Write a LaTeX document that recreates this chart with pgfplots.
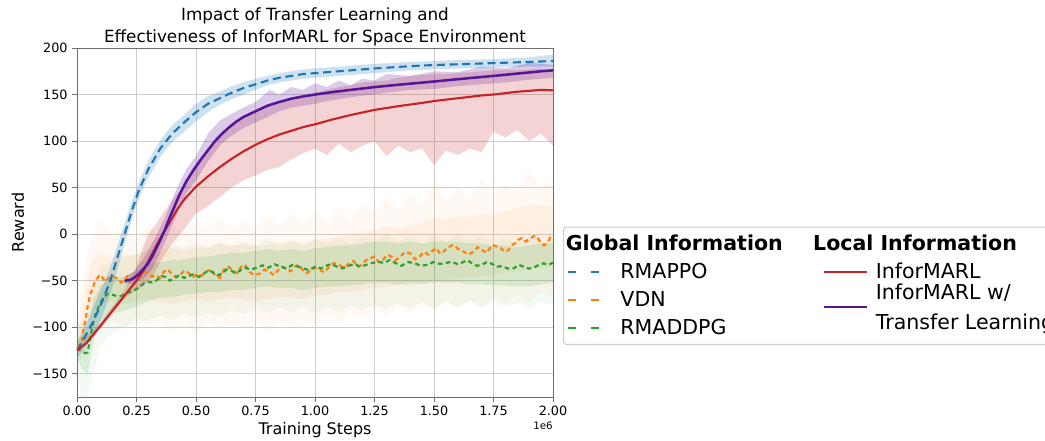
\documentclass[border=0pt]{standalone}
\usepackage{pgfplots}
\pgfplotsset{compat=1.18}
\usepackage{pgfplotstable}
\usepgfplotslibrary{fillbetween}
\usepackage{fontspec}
\setmainfont{DejaVu Sans}

\definecolor{cblue}{RGB}{31,119,180}
\definecolor{corange}{RGB}{255,127,14}
\definecolor{cgreen}{RGB}{44,160,44}
\definecolor{cred}{RGB}{200,35,40}
\definecolor{cpurple}{RGB}{88,20,150}
\definecolor{gridgray}{RGB}{205,205,205}
\definecolor{spinegray}{RGB}{110,110,110}
\definecolor{legframe}{RGB}{204,204,204}

\pgfplotsset{
  legline/.style={legend image code/.code={\draw[##1] (0pt,0pt) -- (32pt,0pt); \path[draw=none,fill=none] (32pt,0pt) -- (37pt,0pt);}},
  leglow/.style={legend image code/.code={\draw[##1] (0pt,-5pt) -- (32pt,-5pt); \path[draw=none,fill=none] (32pt,0pt) -- (37pt,0pt);}},
}

% bands: t lo hi
\pgfplotstableread{
t lo hi
0.00 -133 -117
0.03 -124 -100
0.06 -112 -84
0.10 -92 -60
0.14 -64 -36
0.17 -38 -12
0.20 -11 11
0.23 15 35
0.26 38 56
0.30 61 79
0.35 83 101
0.40 99 117
0.45 110 128
0.50 121 140
0.55 131 148
0.60 139 153
0.65 145 159
0.70 150 163
0.75 155 167
0.80 160 170
0.85 163 173
0.90 165 175
0.95 167 177
1.00 168 178
1.10 170 180
1.25 173 183
1.40 176 185
1.50 177 186
1.60 178 187
1.75 179 188
1.90 180 190
2.00 180 193
}\bandBlue

\pgfplotstableread{
t lo hi
0.00 -128 -122
0.10 -101 -95
0.20 -69 -60
0.25 -60 -35
0.28 -55 -12
0.30 -50 0
0.33 -40 10
0.36 -25 22
0.40 -10 36
0.45 5 52
0.50 22 75
0.55 30 92
0.60 40 108
0.65 50 118
0.70 58 126
0.75 63 132
0.80 69 137
0.85 72 142
0.90 80 145
0.95 87 148
1.00 92 152
1.05 85 155
1.10 97 158
1.15 88 160
1.20 95 163
1.25 100 164
1.30 84 165
1.35 95 168
1.40 88 170
1.45 92 171
1.50 74 172
1.55 90 172
1.60 85 173
1.65 92 174
1.70 88 175
1.75 110 176
1.80 104 177
1.85 112 176
1.90 100 177
1.95 108 178
2.00 95 175
}\bandRed

\pgfplotstableread{
t lo hi
0.20 -54 -46
0.24 -53 -40
0.28 -48 -26
0.32 -36 -8
0.345 -22 5
0.37 -8 18
0.41 16 44
0.46 44 70
0.50 58 84
0.55 78 108
0.60 95 122
0.64 104 128
0.70 114 136
0.75 120 142
0.81 127 155
0.85 132 150
0.90 136 158
0.95 138 155
1.00 140 162
1.05 143 158
1.10 145 165
1.15 147 160
1.20 149 167
1.25 150 165
1.30 152 172
1.40 155 170
1.50 156 175
1.60 159 174
1.70 161 180
1.80 163 178
1.90 166 184
2.00 168 182
}\bandPurple

% orange: outer (lo1 hi1), inner (lo2 hi2)
\pgfplotstableread{
t lo1 hi1 lo2 hi2
0.00 -140 -105 -130 -112
0.03 -125 -40 -112 -70
0.06 -108 -5 -85 -30
0.10 -100 15 -75 -20
0.15 -92 0 -72 -25
0.20 -100 8 -75 -22
0.25 -88 -5 -72 -22
0.30 -100 10 -70 -18
0.35 -92 -2 -72 -20
0.40 -105 12 -75 -15
0.45 -95 0 -72 -18
0.50 -108 15 -70 -15
0.55 -92 5 -72 -14
0.60 -102 18 -70 -10
0.65 -95 5 -68 -12
0.70 -100 15 -70 -10
0.75 -90 5 -72 -14
0.80 -105 20 -70 -12
0.85 -92 8 -68 -10
0.90 -100 22 -68 -8
0.95 -90 10 -70 -10
1.00 -98 25 -66 -6
1.05 -88 12 -65 -5
1.10 -95 30 -62 -2
1.15 -85 15 -62 0
1.20 -92 35 -60 2
1.25 -80 20 -58 5
1.30 -88 40 -56 8
1.35 -78 25 -55 6
1.40 -85 45 -55 10
1.45 -75 30 -52 12
1.50 -82 55 -50 18
1.55 -72 35 -48 15
1.60 -80 50 -48 20
1.65 -70 38 -46 18
1.70 -78 60 -45 22
1.75 -68 40 -44 20
1.80 -75 55 -42 25
1.85 -65 45 -40 28
1.90 -72 70 -38 32
1.95 -62 48 -36 30
2.00 -68 60 -35 30
}\bandOrange

\pgfplotstableread{
t lo1 hi1 lo2 hi2
0.00 -150 -100 -132 -112
0.02 -175 -95 -145 -110
0.045 -175 -85 -150 -100
0.07 -150 -55 -115 -70
0.10 -120 -35 -95 -55
0.15 -105 -30 -85 -48
0.20 -100 -25 -82 -45
0.25 -95 -22 -78 -40
0.30 -92 -15 -72 -32
0.35 -88 -18 -68 -30
0.40 -92 -12 -68 -28
0.45 -85 -15 -65 -27
0.50 -90 -10 -64 -25
0.55 -84 -15 -62 -24
0.60 -88 -8 -62 -22
0.65 -82 -14 -60 -20
0.70 -86 -8 -60 -20
0.75 -80 -12 -58 -18
0.80 -85 -5 -56 -16
0.85 -78 -12 -58 -18
0.90 -84 -6 -58 -16
0.95 -78 -12 -60 -18
1.00 -85 -5 -58 -15
1.05 -78 -10 -56 -14
1.10 -84 -4 -56 -12
1.15 -76 -10 -55 -12
1.20 -82 -2 -54 -10
1.25 -75 -8 -52 -8
1.30 -80 0 -52 -8
1.35 -74 -8 -54 -10
1.40 -80 -2 -52 -8
1.45 -72 -10 -54 -10
1.50 -80 0 -52 -8
1.55 -72 -8 -52 -8
1.60 -78 0 -52 -8
1.65 -72 -8 -54 -10
1.70 -80 -2 -54 -10
1.75 -72 -10 -55 -12
1.80 -78 -4 -55 -12
1.85 -74 -10 -56 -14
1.90 -80 -2 -56 -12
1.95 -72 -8 -54 -10
2.00 -76 -4 -52 -10
}\bandGreen

\begin{document}
\begin{tikzpicture}
\begin{axis}[
  width=357pt, height=261.75pt, scale only axis,
  clip mode=individual,
  xmin=0, xmax=2, ymin=-175, ymax=200,
  xtick={0,0.25,0.5,0.75,1,1.25,1.5,1.75,2},
  xticklabels={0.00,0.25,0.50,0.75,1.00,1.25,1.50,1.75,2.00},
  ytick={-150,-100,-50,0,50,100,150,200},
  yticklabels={−150,−100,−50,0,50,100,150,200},
  tick label style={font=\fontsize{9.6}{11}\selectfont},
  xtick pos=bottom, ytick pos=left,
  tick align=outside, major tick length=3.5pt,
  tick style={spinegray, line width=0.6pt},
  axis line style={spinegray, line width=0.6pt},
  grid=major, grid style={gridgray, line width=0.6pt},
  xlabel={Training Steps}, ylabel={Reward},
  label style={font=\fontsize{12}{14}\selectfont},
  xlabel style={at={(axis description cs:0.5,-0.095)}, anchor=center},
  ylabel style={at={(axis description cs:-0.124,0.5)}, anchor=center},
  title={Impact of Transfer Learning and\\Effectiveness of InforMARL for Space Environment},
  title style={align=center, font=\fontsize{12.6}{16.5}\selectfont, yshift=-8pt},
  legend columns=2,
  legend cell align=left,
  legend style={at={(1,0)}, anchor=south west, xshift=7.5pt, yshift=39pt,
    font=\fontsize{15.4}{18}\selectfont,
    draw=legframe, line width=0.8pt, rounded corners=2pt,
    inner ysep=4pt, row sep=4pt,
    /tikz/every even column/.append style={column sep=28pt}},
]

% --- spread bands ---
\addplot[draw=none, name path=olo1, forget plot] table[x=t,y=lo1]{\bandOrange};
\addplot[draw=none, name path=ohi1, forget plot] table[x=t,y=hi1]{\bandOrange};
\addplot[fill=corange, fill opacity=0.05, draw=none, forget plot] fill between[of=olo1 and ohi1];
\addplot[draw=none, name path=olo2, forget plot] table[x=t,y=lo2]{\bandOrange};
\addplot[draw=none, name path=ohi2, forget plot] table[x=t,y=hi2]{\bandOrange};
\addplot[fill=corange, fill opacity=0.08, draw=none, forget plot] fill between[of=olo2 and ohi2];

\addplot[draw=none, name path=glo1, forget plot] table[x=t,y=lo1]{\bandGreen};
\addplot[draw=none, name path=ghi1, forget plot] table[x=t,y=hi1]{\bandGreen};
\addplot[fill=cgreen, fill opacity=0.06, draw=none, forget plot] fill between[of=glo1 and ghi1];
\addplot[draw=none, name path=glo2, forget plot] table[x=t,y=lo2]{\bandGreen};
\addplot[draw=none, name path=ghi2, forget plot] table[x=t,y=hi2]{\bandGreen};
\addplot[fill=cgreen, fill opacity=0.14, draw=none, forget plot] fill between[of=glo2 and ghi2];

\addplot[draw=none, name path=blo, forget plot] table[x=t,y=lo]{\bandBlue};
\addplot[draw=none, name path=bhi, forget plot] table[x=t,y=hi]{\bandBlue};
\addplot[fill=cblue, fill opacity=0.22, draw=none, forget plot] fill between[of=blo and bhi];

\addplot[draw=none, name path=rlo, forget plot] table[x=t,y=lo]{\bandRed};
\addplot[draw=none, name path=rhi, forget plot] table[x=t,y=hi]{\bandRed};
\addplot[fill=cred, fill opacity=0.2, draw=none, forget plot] fill between[of=rlo and rhi];

\addplot[draw=none, name path=plo, forget plot] table[x=t,y=lo]{\bandPurple};
\addplot[draw=none, name path=phi, forget plot] table[x=t,y=hi]{\bandPurple};
\addplot[fill=cpurple, fill opacity=0.22, draw=none, forget plot] fill between[of=plo and phi];

% --- mean curves ---
% VDN
\addplot[corange, line width=1.6pt, dash pattern=on 3.5pt off 2.5pt, forget plot] coordinates {
(0.000,-122) (0.010,-119) (0.020,-115) (0.028,-100) (0.035,-93) (0.043,-80) (0.050,-71) (0.057,-64) (0.063,-60) (0.074,-52) (0.084,-48) (0.095,-44) (0.105,-46) (0.118,-51) (0.130,-48) (0.150,-45) (0.170,-48) (0.184,-52) (0.197,-50) (0.213,-45) (0.230,-47) (0.248,-49) (0.267,-44) (0.283,-40) (0.300,-42) (0.315,-46) (0.330,-44) (0.348,-47) (0.366,-40) (0.383,-38) (0.400,-44) (0.418,-46) (0.436,-43) (0.453,-39) (0.470,-42) (0.488,-46) (0.506,-42.5) (0.523,-45) (0.540,-40.7) (0.560,-38) (0.580,-44) (0.600,-47) (0.620,-37) (0.637,-35) (0.654,-39) (0.672,-42) (0.690,-35) (0.707,-33) (0.725,-40.7) (0.746,-44) (0.767,-42.5) (0.788,-38) (0.810,-40.7) (0.827,-44) (0.844,-39) (0.862,-35) (0.880,-37) (0.897,-40) (0.914,-35) (0.932,-33) (0.950,-39) (0.963,-42) (0.976,-40) (1.000,-36) (1.020,-38.6) (1.040,-41) (1.060,-35) (1.080,-31) (1.100,-33) (1.122,-36) (1.145,-31.4) (1.162,-29) (1.180,-35) (1.197,-33) (1.215,-27.8) (1.232,-26) (1.250,-24) (1.268,-30) (1.286,-27.8) (1.303,-22) (1.320,-24) (1.338,-28) (1.356,-25) (1.378,-19) (1.400,-20.6) (1.420,-27) (1.440,-24) (1.458,-19) (1.476,-22) (1.493,-18) (1.510,-15) (1.525,-21) (1.540,-18.8) (1.560,-14) (1.580,-11.5) (1.602,-16) (1.624,-18.8) (1.645,-22) (1.666,-18.8) (1.683,-14) (1.700,-17) (1.722,-20) (1.744,-11.5) (1.762,-13) (1.780,-15) (1.797,-19) (1.814,-17) (1.827,-12) (1.840,-9.7) (1.855,-6) (1.870,-4.3) (1.885,-8) (1.900,-5.4) (1.914,-3) (1.927,-1.8) (1.938,-5) (1.948,-9) (1.962,-12) (1.976,-9.7) (1.988,-4) (2.000,-6)
};
% RMADDPG
\addplot[cgreen, line width=1.6pt, dash pattern=on 3.5pt off 2.5pt, forget plot] coordinates {
(0.000,-122) (0.014,-125) (0.028,-127) (0.037,-128) (0.045,-127) (0.058,-108) (0.070,-93) (0.080,-84) (0.090,-78.6) (0.102,-72) (0.113,-67.8) (0.130,-64) (0.148,-65) (0.170,-67) (0.190,-66) (0.208,-63) (0.225,-62) (0.243,-60) (0.260,-57.7) (0.280,-53) (0.300,-51.5) (0.320,-52) (0.338,-49) (0.355,-45) (0.373,-46) (0.390,-50) (0.408,-48) (0.430,-44) (0.450,-47) (0.470,-45) (0.490,-43) (0.512,-46) (0.535,-42) (0.552,-39) (0.570,-40.7) (0.590,-44) (0.610,-42.5) (0.628,-38) (0.647,-39) (0.665,-42) (0.682,-39.6) (0.705,-36) (0.730,-38) (0.755,-36) (0.780,-33.5) (0.805,-36) (0.830,-32.4) (0.855,-35) (0.880,-37) (0.905,-33) (0.930,-35) (0.953,-37) (0.976,-38.6) (1.000,-35) (1.025,-36.8) (1.047,-34) (1.068,-32) (1.092,-35) (1.117,-36.8) (1.142,-34) (1.166,-32) (1.190,-35) (1.215,-33) (1.240,-31) (1.265,-29.6) (1.290,-31) (1.314,-27.8) (1.338,-31) (1.363,-34) (1.392,-30) (1.420,-31.4) (1.445,-34) (1.470,-33) (1.498,-30) (1.525,-32) (1.550,-31) (1.575,-29.6) (1.596,-32) (1.617,-30.7) (1.640,-28) (1.660,-31.4) (1.680,-34) (1.700,-33) (1.722,-30) (1.744,-32) (1.765,-35) (1.786,-34.3) (1.810,-37) (1.835,-36.8) (1.856,-33) (1.877,-35) (1.898,-37) (1.920,-36) (1.940,-33) (1.960,-31.4) (1.980,-33) (2.000,-30.7)
};
% RMAPPO
\addplot[cblue, line width=1.6pt, dash pattern=on 6pt off 3.5pt, forget plot] coordinates {
(0.00,-125) (0.03,-112) (0.06,-98) (0.10,-76) (0.14,-50) (0.17,-25) (0.20,0) (0.23,25) (0.26,47) (0.30,70) (0.35,92) (0.40,108) (0.45,120) (0.50,131) (0.55,140) (0.60,146) (0.65,152) (0.70,157) (0.75,161) (0.80,165) (0.85,168) (0.90,170) (0.95,172) (1.00,173) (1.10,175) (1.25,178) (1.40,180.5) (1.50,181.7) (1.60,182.5) (1.75,183.8) (1.90,185) (2.00,186)
};
% InforMARL
\addplot[cred, line width=1.6pt, forget plot] coordinates {
(0.00,-125) (0.02,-121) (0.04,-117) (0.10,-98) (0.15,-82) (0.20,-66) (0.25,-50) (0.28,-39) (0.30,-29) (0.33,-14) (0.36,0) (0.39,13) (0.42,26) (0.45,37) (0.50,51) (0.55,62) (0.60,72) (0.65,81) (0.70,89) (0.75,96) (0.80,102) (0.85,107) (0.90,111) (0.95,115) (1.00,118) (1.07,123) (1.15,128) (1.25,133.5) (1.35,137.5) (1.45,141) (1.50,143) (1.60,146) (1.70,149) (1.75,150) (1.85,153) (1.95,155) (2.00,154.5)
};
% InforMARL w/ Transfer Learning
\addplot[cpurple, line width=1.9pt, forget plot] coordinates {
(0.20,-50) (0.22,-49.5) (0.24,-47) (0.26,-43) (0.28,-37) (0.30,-31) (0.32,-22) (0.345,-9) (0.37,5) (0.39,18) (0.41,30) (0.43,42) (0.46,57) (0.49,69) (0.52,80) (0.55,90) (0.58,100) (0.61,108) (0.64,115) (0.67,121) (0.70,126) (0.75,132) (0.80,138) (0.85,142) (0.90,145.5) (0.95,148) (1.00,150) (1.07,152.5) (1.15,155) (1.25,158) (1.35,160.5) (1.50,164) (1.60,166.5) (1.75,170) (1.85,172.5) (1.95,175) (2.00,176)
};

% --- legend ---
\addlegendimage{empty legend}
\addlegendentry{\hspace*{-41pt}\textbf{Global Information}}
\addlegendimage{empty legend}
\addlegendentry{\hspace*{-47pt}\textbf{Local Information}}
\addlegendimage{legline, cblue, line width=1.4pt, dash pattern=on 6pt off 11pt}
\addlegendentry{RMAPPO}
\addlegendimage{legline, cred, line width=1.6pt}
\addlegendentry{InforMARL}
\addlegendimage{legline, corange, line width=1.4pt, dash pattern=on 6pt off 11pt}
\addlegendentry{VDN}
\addlegendimage{leglow, cpurple, line width=1.6pt}
\addlegendentry{\raisebox{0pt}[0pt][0pt]{\begin{tabular}[t]{@{}l@{}}InforMARL w/\\[5pt]Transfer Learning\end{tabular}}}
\addlegendimage{legline, cgreen, line width=1.4pt, dash pattern=on 6pt off 11pt}
\addlegendentry{RMADDPG}
\addlegendimage{empty legend}
\addlegendentry{}

\node[anchor=north east, font=\fontsize{7.7}{9}\selectfont, inner sep=0pt, yshift=-18.5pt] at (rel axis cs:1,0) {1e6};
\end{axis}
\pgfresetboundingbox
\useasboundingbox (-57.75pt,-32.25pt) rectangle (726pt,297.75pt);
\end{tikzpicture}
\end{document}
